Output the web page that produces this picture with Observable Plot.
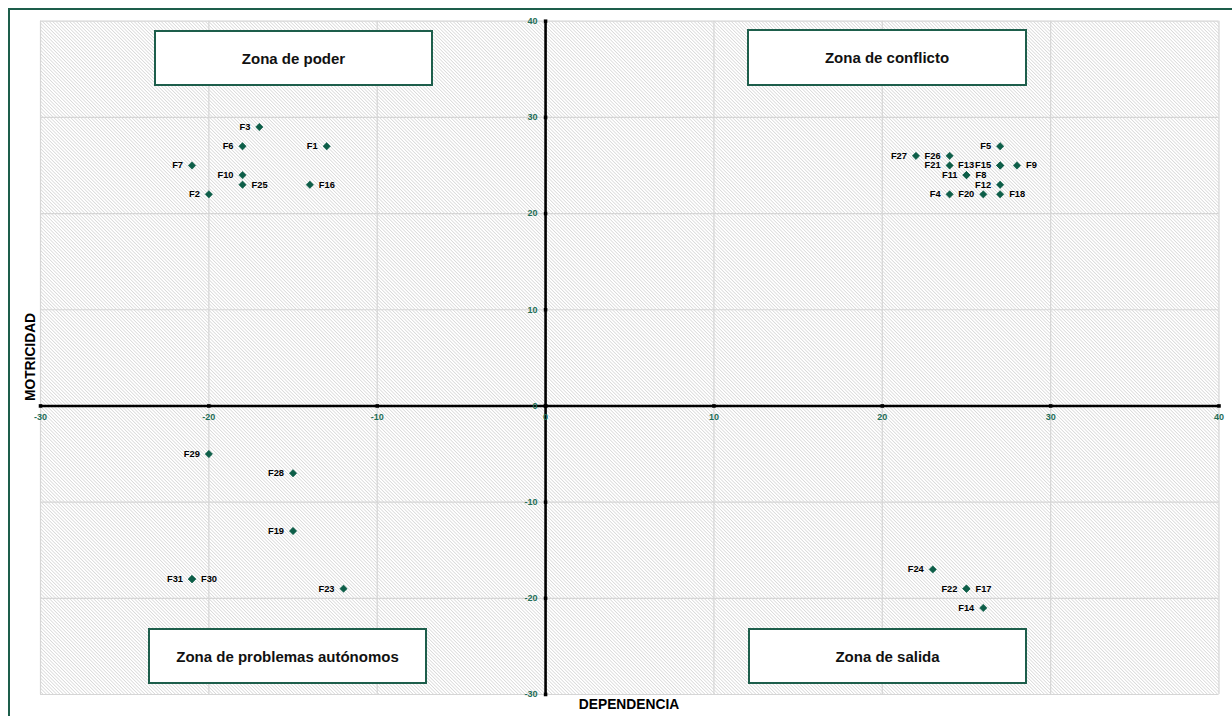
<!DOCTYPE html>
<html>
<head>
<meta charset="utf-8">
<script src="https://cdn.jsdelivr.net/npm/d3@7"></script>
<script src="https://cdn.jsdelivr.net/npm/@observablehq/plot@0.6"></script>
<style>
  html, body { margin: 0; padding: 0; background: #fff; }
  #wrap { position: relative; width: 1232px; height: 716px; overflow: hidden; font-family: "Liberation Sans", Arial, sans-serif; }
  #wrap svg { position: absolute; left: 0; top: 0; }
  .outer { position: absolute; left: 8px; top: 8px; width: 1260px; height: 760px; border: 2.5px solid #1d5e4b; box-sizing: border-box; pointer-events: none; }
  .zone { position: absolute; box-sizing: border-box; background: #fff; border: 2.5px solid #1d5e4b;
          display: flex; align-items: center; justify-content: center;
          font: bold 15px "Liberation Sans", Arial, sans-serif; color: #111; }
  .ttl { position: absolute; font: bold 13.8px "Liberation Sans", Arial, sans-serif; color: #000; white-space: nowrap; }
</style>
</head>
<body>
<div id="wrap"></div>
<script>
// ---- data ----
const factors     = ["F1","F2","F3","F4","F5","F6","F7","F8","F9","F10","F11","F12","F13","F14","F15","F16","F17","F18","F19","F20","F21","F22","F23","F24","F25","F26","F27","F28","F29","F30","F31"];
const dependencia = [-13, -20, -17, 24, 27, -18, -21, 25, 28, -18, 25, 27, 27, 26, 27, -14, 25, 27, -15, 26, 24, 25, -12, 23, -18, 24, 22, -15, -20, -21, -21];
const motricidad  = [ 27,  22,  29, 22, 27,  27,  25, 24, 25,  24, 24, 23, 25, -21, 25, 23, -19, 22, -13, 22, 25, -19, -19, -17, 23, 26, 26, -7, -5, -18, -18];
const xTicks = [-30, -20, -10, 0, 10, 20, 30, 40];
const yTicks = [-30, -20, -10, 0, 10, 20, 30, 40];
const zoneNames = ["Zona de poder", "Zona de conflicto", "Zona de problemas autónomos", "Zona de salida"];
const xTitle = "DEPENDENCIA";
const yTitle = "MOTRICIDAD";

// label placement (layout)
const rightSide = new Set(["F8","F9","F16","F17","F18","F25","F30"]);
const data = factors.map((f, i) => ({name: f, x: dependencia[i], y: motricidad[i]}));
const leftData = data.filter(d => !rightSide.has(d.name) && d.name !== "F13");
const farLeft = data.filter(d => d.name === "F13");
const rightData = data.filter(d => rightSide.has(d.name));

const green = "#0d5e48";
const tickGreen = "#1f6e57";
const labelFont = {fontSize: 9.3, fontWeight: "bold", fontFamily: "Liberation Sans, Arial, sans-serif", fill: "#000"};

const chart = Plot.plot({
  width: 1232,
  height: 716,
  marginLeft: 40,
  marginRight: 13.5,
  marginTop: 20.7,
  marginBottom: 22,
  style: {background: "transparent", fontFamily: "Liberation Sans, Arial, sans-serif"},
  x: {domain: [-30, 40], axis: null},
  y: {domain: [-30, 40], axis: null},
  marks: [
    Plot.frame({fill: "url(#hatch)", stroke: null}),
    Plot.ruleX(xTicks, {stroke: "#d6d6d6", strokeWidth: 1.2}),
    Plot.ruleY(yTicks, {stroke: "#d6d6d6", strokeWidth: 1.2}),
    Plot.ruleX([0], {stroke: "#000", strokeWidth: 2.6}),
    Plot.ruleY([0], {stroke: "#000", strokeWidth: 2.6}),
    Plot.dot(xTicks, {x: d => d, y: 0, symbol: "square", r: 2, fill: "#000"}),
    Plot.dot(yTicks, {x: 0, y: d => d, symbol: "square", r: 2, fill: "#000"}),
    Plot.text(xTicks, {x: d => d, y: 0, text: d => String(d), dy: 11, fontSize: 9, fontWeight: "bold", fill: tickGreen}),
    Plot.text(yTicks, {x: 0, y: d => d, text: d => String(d), dx: -8, textAnchor: "end", fontSize: 9, fontWeight: "bold", fill: tickGreen}),
    Plot.dot(data, {x: "x", y: "y", symbol: "diamond2", r: 3.3, fill: green, stroke: green, strokeWidth: 0.6}),
    Plot.text(leftData, {x: "x", y: "y", text: "name", textAnchor: "end", dx: -9, ...labelFont}),
    Plot.text(farLeft, {x: "x", y: "y", text: "name", textAnchor: "end", dx: -26, ...labelFont}),
    Plot.text(rightData, {x: "x", y: "y", text: "name", textAnchor: "start", dx: 9, ...labelFont})
  ]
});

// hatch pattern definition
const ns = "http://www.w3.org/2000/svg";
const defs = document.createElementNS(ns, "defs");
defs.innerHTML = `<pattern id="hatch" patternUnits="userSpaceOnUse" width="2.4" height="10" patternTransform="rotate(-45)">
  <rect width="2.4" height="10" fill="#ffffff"/>
  <line x1="0.4" y1="0" x2="0.4" y2="10" stroke="#d2d2d2" stroke-width="0.75"/>
</pattern>`;
chart.insertBefore(defs, chart.firstChild);

const wrap = document.getElementById("wrap");
wrap.appendChild(chart);

const outer = document.createElement("div");
outer.className = "outer";
wrap.appendChild(outer);

const boxes = [
  {left: 154, top: 30, w: 279, h: 56},
  {left: 747, top: 29, w: 280, h: 57},
  {left: 148, top: 628, w: 279, h: 56},
  {left: 748, top: 628, w: 279, h: 56}
];
zoneNames.forEach((z, i) => {
  const b = boxes[i];
  const el = document.createElement("div");
  el.className = "zone";
  el.style.left = b.left + "px";
  el.style.top = b.top + "px";
  el.style.width = b.w + "px";
  el.style.height = b.h + "px";
  el.textContent = z;
  wrap.appendChild(el);
});

const xt = document.createElement("div");
xt.className = "ttl";
xt.textContent = xTitle;
xt.style.left = "629px"; xt.style.top = "704px";
xt.style.transform = "translate(-50%, -50%)";
wrap.appendChild(xt);

const yt = document.createElement("div");
yt.className = "ttl";
yt.textContent = yTitle;
yt.style.left = "30px"; yt.style.top = "357px";
yt.style.transform = "translate(-50%, -50%) rotate(-90deg)";
wrap.appendChild(yt);
</script>
</body>
</html>
